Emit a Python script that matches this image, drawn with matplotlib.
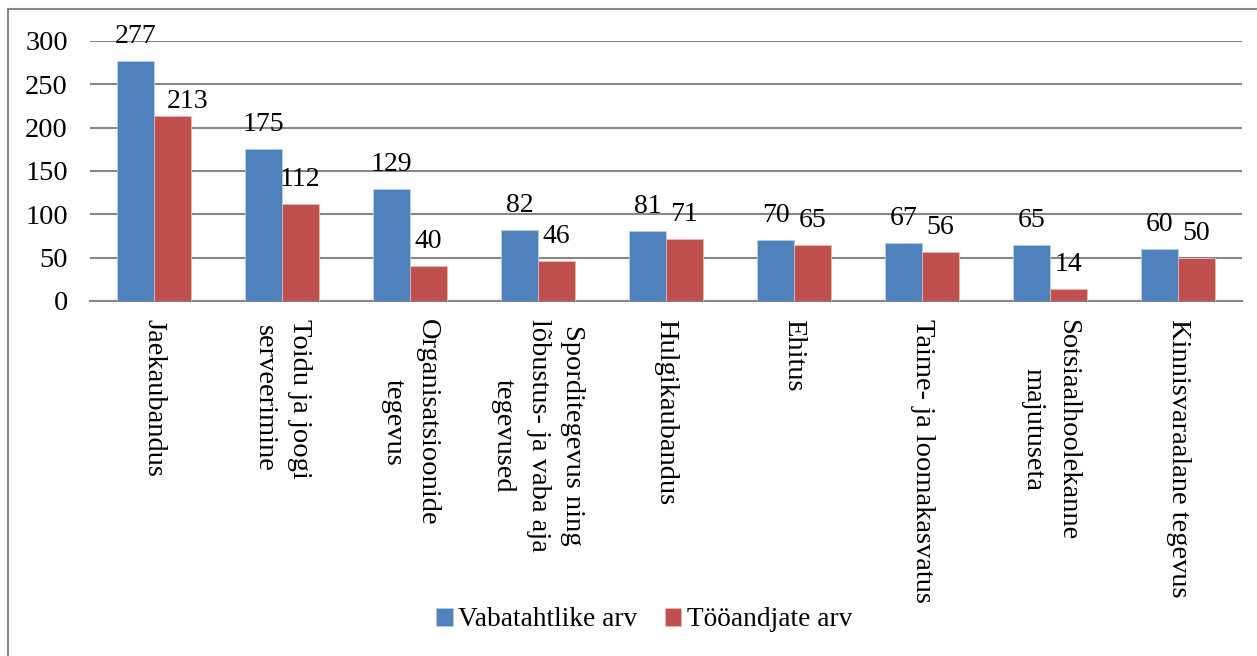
import matplotlib.pyplot as plt
import numpy as np
from matplotlib.patches import Rectangle

categories = ['Jaekaubandus', 'Toidu ja joogi\nserveerimine', 'Organisatsioonide\ntegevus',
              'Sporditegevus ning\nlõbustus- ja vaba aja\ntegevused', 'Hulgikaubandus', 'Ehitus',
              'Taime- ja loomakasvatus', 'Sotsiaalhoolekanne\nmajutuseta', 'Kinnisvaraalane tegevus']
vabatahtlikud = [277, 175, 129, 82, 81, 70, 67, 65, 60]
tooandjad = [213, 112, 40, 46, 71, 65, 56, 14, 50]

plt.rcParams['font.family'] = 'Liberation Serif'
plt.rcParams['font.size'] = 20.5

fig = plt.figure(figsize=(12.57, 6.56), dpi=100)
ax = fig.add_axes([90/1257, 1 - 301/656, (1242 - 90)/1257, (301 - 41)/656])

x = np.arange(len(categories))
w = 1 / 3.5
b1 = ax.bar(x - w/2, vabatahtlikud, w, color='#4F81BD', edgecolor='#B9CDE5', linewidth=0.6,
            label='Vabatahtlike arv', zorder=3)
b2 = ax.bar(x + w/2, tooandjad, w, color='#C0504D', edgecolor='#E6B9B8', linewidth=0.6,
            label='Tööandjate arv', zorder=3)

# data labels, one red label is nudged like in the original
for rect, v in zip(b1, vabatahtlikud):
    ax.annotate(str(v), (rect.get_x() + rect.get_width()/2, v), xytext=(0, 13),
                textcoords='offset points', ha='center', va='baseline', fontsize=20)
for i, (rect, v) in enumerate(zip(b2, tooandjad)):
    dx, dy = (11, 6) if i == 0 else (0, 13)
    ax.annotate(str(v), (rect.get_x() + rect.get_width()/2, v), xytext=(dx, dy),
                textcoords='offset points', ha='center', va='baseline', fontsize=20)

ax.set_xlim(-0.5, len(categories) - 0.5)
ax.set_ylim(0, 300)
ax.set_yticks(range(0, 301, 50))
ax.yaxis.grid(True, color='#878787', linewidth=1.5, zorder=0)
ax.set_axisbelow(True)
for s in ['top', 'right', 'left']:
    ax.spines[s].set_visible(False)
ax.spines['bottom'].set_color('#878787')
ax.spines['bottom'].set_linewidth(1.5)
ax.tick_params(axis='y', length=0, pad=16)
ax.tick_params(axis='x', length=0, pad=13)
ax.set_xticks(x)
ax.set_xticklabels(categories, rotation=-90, ha='center', va='top', multialignment='center',
                   linespacing=1.5)

ax.legend(loc='center', bbox_to_anchor=(644/1257, 1 - 620/656), bbox_transform=fig.transFigure,
          ncol=2, frameon=False, fontsize=19.7, handlelength=0.6, handleheight=0.6,
          handletextpad=0.2, columnspacing=1.0)

fig.patches.append(Rectangle((8/1257, -0.01), 1.01, 1 - 9/656 + 0.01, transform=fig.transFigure,
                             fill=False, edgecolor='#878787', linewidth=1.5))

fig.savefig('out.png', dpi=100)
